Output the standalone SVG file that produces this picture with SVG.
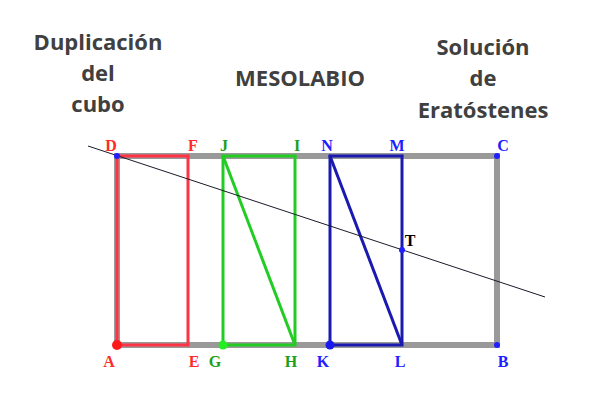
<svg xmlns="http://www.w3.org/2000/svg" width="600" height="400" viewBox="0 0 600 400">
<style>
.t{font-family:"Open Sans","Liberation Sans",sans-serif;font-weight:bold;font-size:22px;fill:#404040;text-anchor:middle}
.l{font-family:"Liberation Serif",serif;font-weight:bold;font-size:16px;text-anchor:middle}
.r{fill:#ff2a2a}.g{fill:#1aa01a}.b{fill:#2020ff}.k{fill:#000}
</style>
<rect width="600" height="400" fill="#fff"/>
<g id="titles">
<text class="t" x="98" y="50">Duplicación</text>
<text class="t" x="98" y="81">del</text>
<text class="t" x="98" y="112">cubo</text>
<text class="t" x="300" y="86">MESOLABIO</text>
<text class="t" x="483" y="55">Solución</text>
<text class="t" x="483" y="86">de</text>
<text class="t" x="483" y="118">Eratóstenes</text>
</g>
<g id="frame"><rect x="117" y="156" width="380" height="189" fill="none" stroke="#999" stroke-width="6"/></g>
<g id="red"><polyline points="117,156 188,156 188,345 117,345 117,156" fill="none" stroke="#ff3344" stroke-width="3"/></g>
<g id="green"><polyline points="223,345 295,345 295,156 223,156 223,345" fill="none" stroke="#22cc22" stroke-width="3"/><line x1="223" y1="156" x2="295" y2="345" stroke="#22cc22" stroke-width="3"/></g>
<g id="blue"><polyline points="330,345 402,345 402,156 330,156 330,345" fill="none" stroke="#1a1ab0" stroke-width="3"/><line x1="330" y1="156" x2="402" y2="345" stroke="#1a1ab0" stroke-width="3"/></g>
<g id="connectors"><line x1="88" y1="146" x2="545" y2="297" stroke="#1a1a2a" stroke-width="1"/></g>
<g id="points">
<circle cx="117" cy="156" r="3" fill="#2020ff"/>
<circle cx="188" cy="156" r="1.5" fill="#ff3344"/>
<circle cx="223" cy="156" r="1.5" fill="#22cc22"/>
<circle cx="295" cy="156" r="1.5" fill="#22cc22"/>
<circle cx="330" cy="156" r="1.5" fill="#1a1ab0"/>
<circle cx="402" cy="156" r="1.5" fill="#1a1ab0"/>
<circle cx="497" cy="156" r="3" fill="#2020ff"/>
<circle cx="117" cy="345" r="5" fill="#ff1a1a"/>
<circle cx="223" cy="345" r="4.5" fill="#22ee22"/>
<circle cx="330" cy="345" r="4.5" fill="#1a1aee"/>
<circle cx="497" cy="345" r="3" fill="#2020ff"/>
<circle cx="402" cy="250" r="3" fill="#2020ff"/>
</g>
<g id="labels">
<text class="l r" x="111" y="151">D</text>
<text class="l r" x="193" y="151">F</text>
<text class="l g" x="224" y="151">J</text>
<text class="l g" x="297" y="151">I</text>
<text class="l b" x="327" y="151">N</text>
<text class="l b" x="397" y="151">M</text>
<text class="l b" x="503" y="151">C</text>
<text class="l k" x="410" y="246">T</text>
<text class="l r" x="109" y="367">A</text>
<text class="l r" x="194" y="367">E</text>
<text class="l g" x="215" y="367">G</text>
<text class="l g" x="291" y="367">H</text>
<text class="l b" x="323" y="367">K</text>
<text class="l b" x="400" y="367">L</text>
<text class="l b" x="503" y="367">B</text>
</g>
</svg>
